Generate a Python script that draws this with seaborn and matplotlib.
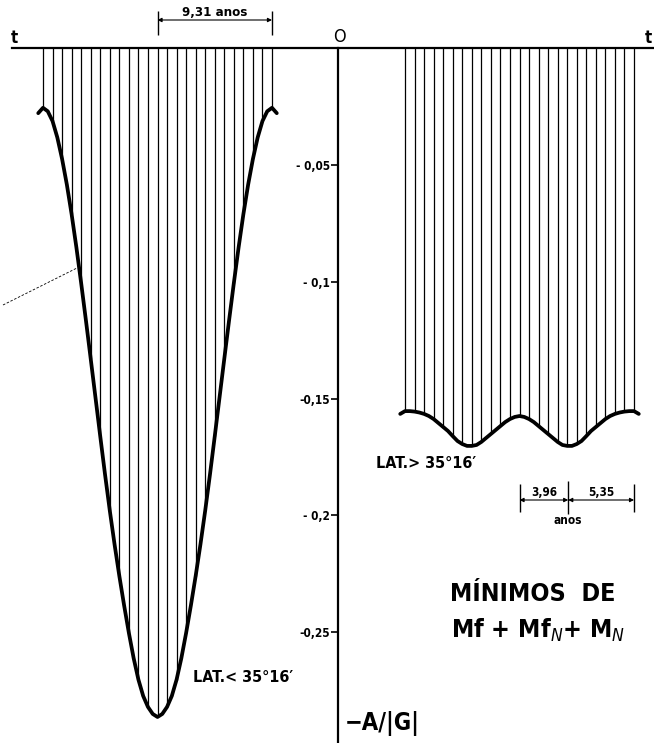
import matplotlib
matplotlib.use("Agg")
import matplotlib.pyplot as plt
import numpy as np
import pandas as pd
import seaborn as sns

# nodal longitude N (degrees), sampled every 7.5 deg; the +-187.5 entries are the curled ends
nodal_deg = np.arange(-187.5, 188.0, 7.5)

# minima of -A/|G|, latitude < 35 16'
left_min = [
    -0.0278, -0.0255, -0.0270, -0.0312, -0.0382, -0.0474, -0.0584, -0.0711, -0.0853,
    -0.1006, -0.1166, -0.1330, -0.1496, -0.1662, -0.1825, -0.1980, -0.2125, -0.2260,
    -0.2386, -0.2504, -0.2612, -0.2704, -0.2774, -0.2821, -0.2851, -0.2864,
    -0.2851, -0.2821, -0.2774, -0.2704, -0.2612, -0.2504, -0.2386, -0.2260, -0.2125,
    -0.1980, -0.1825, -0.1662, -0.1496, -0.1330, -0.1166, -0.1006, -0.0853, -0.0711,
    -0.0584, -0.0474, -0.0382, -0.0312, -0.0270, -0.0255, -0.0278,
]

# minima of -A/|G|, latitude > 35 16'
right_min = [
    -0.1566, -0.1554, -0.1554, -0.1556, -0.1560, -0.1566, -0.1575, -0.1588, -0.1605,
    -0.1622, -0.1639, -0.1661, -0.1682, -0.1695, -0.1703, -0.1703, -0.1699, -0.1686,
    -0.1669, -0.1652, -0.1635, -0.1618, -0.1601, -0.1588, -0.1579, -0.1575,
    -0.1579, -0.1588, -0.1601, -0.1618, -0.1635, -0.1652, -0.1669, -0.1686, -0.1699,
    -0.1703, -0.1703, -0.1695, -0.1682, -0.1661, -0.1639, -0.1622, -0.1605, -0.1588,
    -0.1575, -0.1566, -0.1560, -0.1556, -0.1554, -0.1554, -0.1566,
]

y_ticks = [-0.05, -0.10, -0.15, -0.20, -0.25]
y_tick_labels = ["- 0,05", "- 0,1", "-0,15", "- 0,2", "-0,25"]

NODAL_PERIOD = 18.61  # anos
half_label = "9,31 anos"
seg1, seg2 = 3.96, 5.35

# layout (x in years, y in -A/|G|)
PX_PER_YR = 12.305
Y0_PX, PX_PER_UNIT = 48.25, 2335.0
XMAX = 654 / PX_PER_YR
YTOP, YBOT = Y0_PX / PX_PER_UNIT, -(743 - Y0_PX) / PX_PER_UNIT
LEFT_C, AXIS_X, RIGHT_C = 157.5 / PX_PER_YR, 338 / PX_PER_YR, 519.5 / PX_PER_YR


def fx(p):
    return p / PX_PER_YR


def fy(p):
    return (Y0_PX - p) / PX_PER_UNIT


sns.set_theme(style="white")
FONT = ["DejaVu Sans", "Liberation Sans"]
plt.rcParams["font.family"] = FONT
plt.rcParams["font.stretch"] = "condensed"
plt.rcParams["text.color"] = "black"
plt.rcParams["mathtext.fontset"] = "dejavusans"

fig = plt.figure(figsize=(6.54, 7.43), dpi=100)
ax = fig.add_axes([0, 0, 1, 1])
ax.set_xlim(0, XMAX)
ax.set_ylim(YBOT, YTOP)

t_years = nodal_deg / 360.0 * NODAL_PERIOD
hatch = (np.abs(nodal_deg) <= 180) & (np.mod(nodal_deg, 15) == 0)

for centre, vals in [(LEFT_C, left_min), (RIGHT_C, right_min)]:
    vals = np.array(vals)
    ax.vlines(centre + t_years[hatch], vals[hatch], 0, color="black", lw=0.9)
    df = pd.DataFrame({"t": centre + t_years, "v": vals})
    sns.lineplot(data=df, x="t", y="v", ax=ax, color="black", lw=2.7,
                 estimator=None, sort=False)
ax.set_xlabel("")
ax.set_ylabel("")

# axes: top time line and the vertical -A/|G| axis
for s in ["right", "bottom"]:
    ax.spines[s].set_visible(False)
ax.spines["left"].set_position(("data", AXIS_X))
ax.spines["left"].set_bounds(YBOT, 0)
ax.spines["top"].set_position(("data", 0))
ax.spines["top"].set_bounds(fx(12), XMAX)
for s in ["left", "top"]:
    ax.spines[s].set_color("black")
    ax.spines[s].set_linewidth(1.6)
ax.set_xticks([])
ax.set_yticks(y_ticks, y_tick_labels)
ax.tick_params(axis="y", direction="out", length=5, width=1.2, pad=1,
               labelsize=8.5, colors="black", left=True)
for lbl in ax.get_yticklabels():
    lbl.set_fontweight("bold")

# axis letters
ax.text(fx(14), fy(38), "t", fontsize=12, fontweight="bold", ha="center", va="center")
ax.text(fx(339), fy(37), "O", fontsize=13, ha="center", va="center")
ax.text(fx(648), fy(38), "t", fontsize=12, fontweight="bold", ha="center", va="center")

arrow = dict(arrowstyle="<|-|>", lw=0.8, color="black", shrinkA=0, shrinkB=0,
             mutation_scale=6)

# 9,31 anos bracket
xa, xb = LEFT_C, LEFT_C + NODAL_PERIOD / 2
ax.vlines([xa, xb], fy(35), fy(11), color="black", lw=1.0)
ax.annotate("", xy=(xb, fy(20)), xytext=(xa, fy(20)), arrowprops=arrow)
ax.text((xa + xb) / 2, fy(12), half_label, fontsize=9.5, fontweight="bold",
        ha="center", va="center")

# 3,96 / 5,35 anos bracket
xa, xm, xb = RIGHT_C, RIGHT_C + seg1, RIGHT_C + seg1 + seg2
ax.vlines([xa, xb], fy(512), fy(484), color="black", lw=1.0)
ax.vlines([xm], fy(514), fy(481), color="black", lw=1.0)
ax.annotate("", xy=(xm, fy(500)), xytext=(xa, fy(500)), arrowprops=arrow)
ax.annotate("", xy=(xb, fy(500)), xytext=(xm, fy(500)), arrowprops=arrow)
ax.text((xa + xm) / 2, fy(492), "3,96", fontsize=8.5, fontweight="bold",
        ha="center", va="center")
ax.text((xm + xb) / 2, fy(492), "5,35", fontsize=8.5, fontweight="bold",
        ha="center", va="center")
ax.text(xm, fy(521), "anos", fontsize=8.5, fontweight="bold", ha="center", va="center")

# curve labels
ax.text(fx(376), fy(463), "LAT.> 35°16′", fontsize=11.5, fontweight="bold",
        ha="left", va="center")
ax.text(fx(193), fy(677), "LAT.< 35°16′", fontsize=11.5, fontweight="bold",
        ha="left", va="center")
ax.text(fx(345), fy(723), "−A/|G|", fontsize=17, fontweight="bold",
        ha="left", va="center")

# title block
ax.text(fx(533), fy(594), "MÍNIMOS  DE", fontsize=18, fontweight="bold",
        ha="center", va="center")
ax.text(fx(538), fy(630), r"Mf + Mf$_N$+ M$_N$", fontsize=18, fontweight="bold",
        ha="center", va="center")

# dashed leader on the left
ax.plot([fx(3), fx(77)], [fy(305), fy(268)], color="black", lw=0.6, ls=(0, (3, 2)))

fig.savefig("out.png", dpi=100, facecolor="white")
